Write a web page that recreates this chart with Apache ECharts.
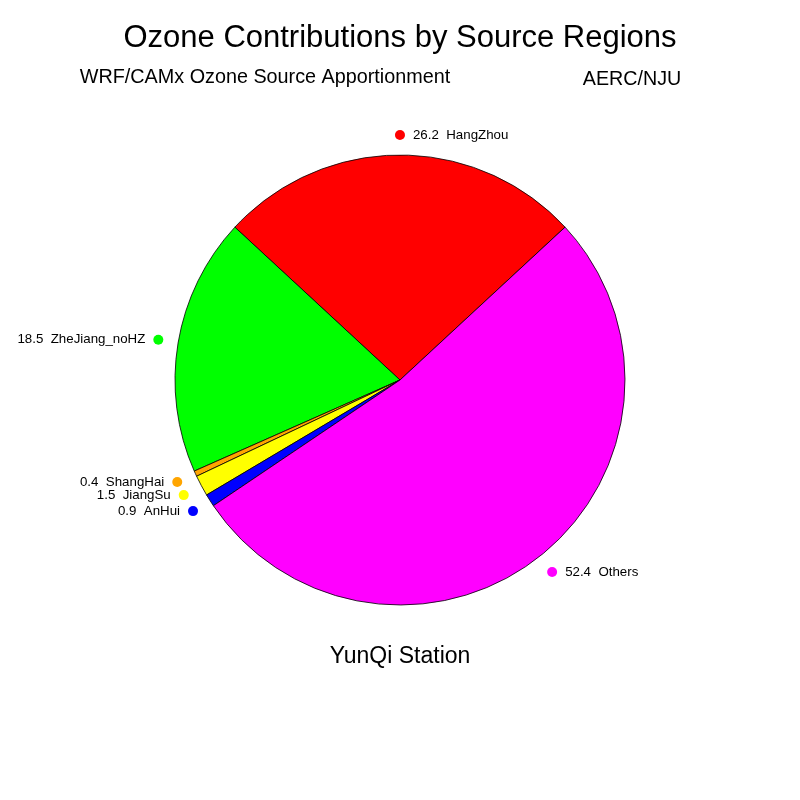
<!DOCTYPE html>
<html>
<head>
<meta charset="utf-8">
<script src="https://cdn.jsdelivr.net/npm/echarts@6/dist/echarts.min.js"></script>
<style>html,body{margin:0;padding:0;background:#fff;}#c{width:800px;height:800px;}</style>
</head>
<body>
<div id="c"></div>
<script>
const regions = ['HangZhou', 'ZheJiang_noHZ', 'ShangHai', 'JiangSu', 'AnHui', 'Others'];
const values = [26.2, 18.5, 0.4, 1.5, 0.9, 52.4];
const colors = ['#ff0000', '#00ff00', '#ffa500', '#ffff00', '#0000ff', '#ff00ff'];
const titleText = 'Ozone Contributions by Source Regions';
const subLeft = 'WRF/CAMx Ozone Source Apportionment';
const subRight = 'AERC/NJU';
const stationText = 'YunQi Station';

const FONT = '"Liberation Sans", Arial, Helvetica, sans-serif';
const START = 42.8;
const total = values.reduce((a, b) => a + b, 0);
let acc = 0;
const dots = values.map((v, i) => {
  const mid = START + (acc + v / 2) / total * 360;
  acc += v;
  const m = ((mid % 360) + 360) % 360;
  const right = (m <= 90.5 || m > 270);
  return {
    value: [1, m],
    itemStyle: { color: colors[i], opacity: 1 },
    label: {
      show: true,
      position: right ? 'right' : 'left',
      distance: 8,
      formatter: v.toFixed(1) + '  ' + regions[i],
      color: '#000',
      opacity: 1,
      fontSize: 13.3,
      fontFamily: FONT
    }
  };
});

const chart = echarts.init(document.getElementById('c'), null, { renderer: 'canvas' });
chart.setOption({
  animation: false,
  backgroundColor: '#fff',
  polar: { center: [400, 380], radius: 245 },
  angleAxis: { type: 'value', min: 0, max: 360, startAngle: 0, clockwise: false, show: false },
  radiusAxis: { type: 'value', min: 0, max: 1, show: false },
  graphic: [
    { type: 'text', x: 400, y: 38, style: { text: titleText, fontSize: 31, fontFamily: FONT, fill: '#000', align: 'center', verticalAlign: 'middle' } },
    { type: 'text', x: 265, y: 78, style: { text: subLeft, fontSize: 19.8, fontFamily: FONT, fill: '#000', align: 'center', verticalAlign: 'middle' } },
    { type: 'text', x: 632, y: 80, style: { text: subRight, fontSize: 19.7, fontFamily: FONT, fill: '#000', align: 'center', verticalAlign: 'middle' } },
    { type: 'text', x: 400, y: 657, style: { text: stationText, fontSize: 23, fontFamily: FONT, fill: '#000', align: 'center', verticalAlign: 'middle' } }
  ],
  series: [
    {
      type: 'pie',
      center: [400, 380],
      radius: 225,
      startAngle: START,
      clockwise: false,
      avoidLabelOverlap: false,
      minAngle: 0,
      label: { show: false },
      labelLine: { show: false },
      emphasis: { disabled: true },
      itemStyle: { borderColor: '#000', borderWidth: 0.8 },
      data: regions.map((r, i) => ({ name: r, value: values[i], itemStyle: { color: colors[i] } }))
    },
    {
      type: 'scatter',
      coordinateSystem: 'polar',
      symbol: 'circle',
      symbolSize: 10,
      silent: true,
      itemStyle: { opacity: 1 },
      emphasis: { disabled: true },
      data: dots
    }
  ]
});
</script>
</body>
</html>
